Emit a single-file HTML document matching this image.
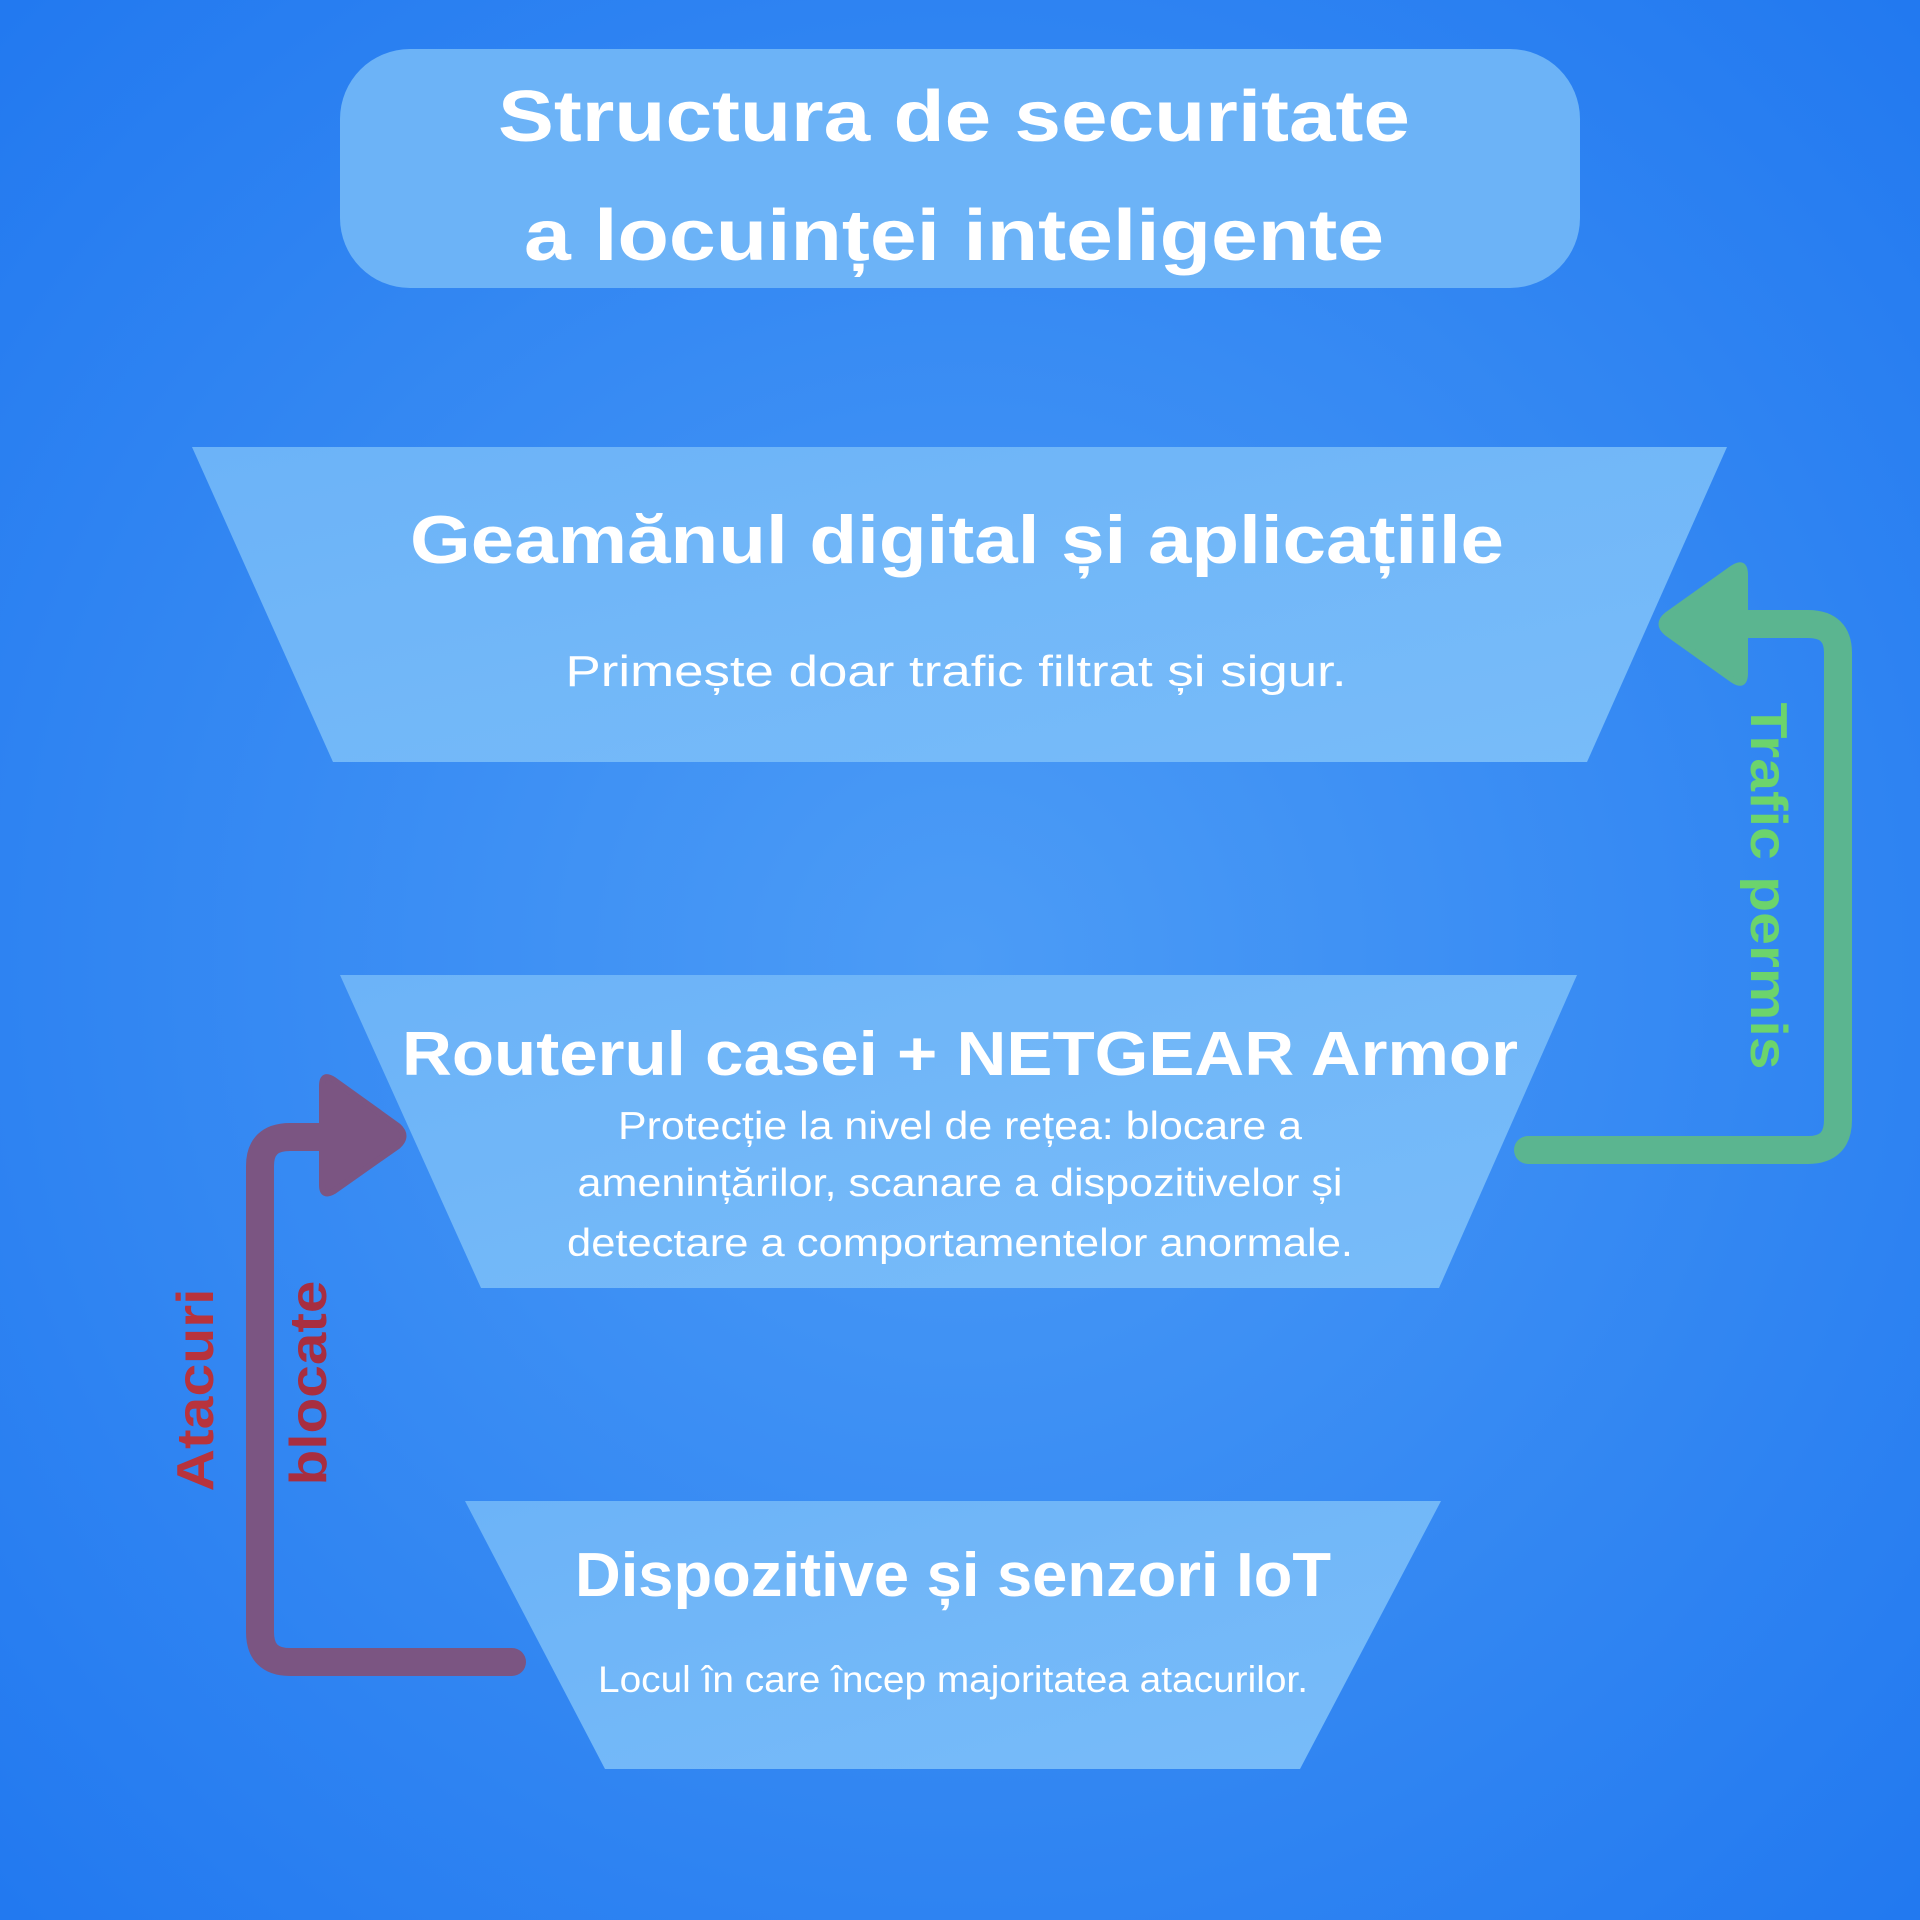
<!DOCTYPE html>
<html><head><meta charset="utf-8"><style>
html,body{margin:0;padding:0;width:1920px;height:1920px;overflow:hidden}
svg{display:block}
</style></head><body>
<svg width="1920" height="1920" viewBox="0 0 1920 1920" xmlns="http://www.w3.org/2000/svg" font-family="'Liberation Sans', 'DejaVu Sans', sans-serif">
<defs>
<radialGradient id="bg" cx="50%" cy="50%" r="70%">
<stop offset="0" stop-color="#4c9cf6"/>
<stop offset="1" stop-color="#2279f0"/>
</radialGradient>
<linearGradient id="tz" x1="0" y1="0" x2="1" y2="1">
<stop offset="0" stop-color="#6cb3f8"/>
<stop offset="1" stop-color="#78bcf9"/>
</linearGradient>
</defs>
<rect width="1920" height="1920" fill="url(#bg)"/>

<rect x="340" y="49" width="1240" height="239" rx="70" fill="#6cb3f7"/>
<g fill="#ffffff" font-weight="bold" text-anchor="middle" font-size="72">
<text x="954" y="141" textLength="912" lengthAdjust="spacingAndGlyphs">Structura de securitate</text>
<text x="954" y="260" textLength="860" lengthAdjust="spacingAndGlyphs">a locuinței inteligente</text>
</g>

<polygon points="192,447 1727,447 1587,762 333,762" fill="url(#tz)"/>
<polygon points="340,975 1577,975 1439,1288 481,1288" fill="url(#tz)"/>
<polygon points="465,1501 1441,1501 1300,1769 605,1769" fill="url(#tz)"/>

<g fill="#ffffff" text-anchor="middle">
<text x="957" y="563" font-size="68" font-weight="bold" textLength="1094" lengthAdjust="spacingAndGlyphs">Geamănul digital și aplicațiile</text>
<text x="956" y="686" font-size="44" textLength="781" lengthAdjust="spacingAndGlyphs">Primește doar trafic filtrat și sigur.</text>
<text x="960" y="1075" font-size="62" font-weight="bold" textLength="1116" lengthAdjust="spacingAndGlyphs">Routerul casei + NETGEAR Armor</text>
<text x="960" y="1139" font-size="39" textLength="684" lengthAdjust="spacingAndGlyphs">Protecție la nivel de rețea: blocare a</text>
<text x="960" y="1196" font-size="39" textLength="765" lengthAdjust="spacingAndGlyphs">amenințărilor, scanare a dispozitivelor și</text>
<text x="960" y="1256" font-size="39" textLength="786" lengthAdjust="spacingAndGlyphs">detectare a comportamentelor anormale.</text>
<text x="953" y="1596" font-size="62" font-weight="bold" textLength="756" lengthAdjust="spacingAndGlyphs">Dispozitive și senzori IoT</text>
<text x="953" y="1692" font-size="37" textLength="710" lengthAdjust="spacingAndGlyphs">Locul în care încep majoritatea atacurilor.</text>
</g>

<!-- green arrow -->
<path d="M1528,1150 L1808,1150 Q1838,1150 1838,1120 L1838,653 Q1838,624 1808,624 L1740,624" fill="none" stroke="#5bb590" stroke-width="28" stroke-linecap="round" stroke-linejoin="round"/>
<path d="M1745,575 Q1745,560 1733,568 L1667,615 Q1656,624 1667,633 L1733,680 Q1745,688 1745,673 Z" fill="#5bb590" stroke="#5bb590" stroke-width="6" stroke-linejoin="round"/>
<text transform="translate(1751,886) rotate(90)" text-anchor="middle" font-size="52" font-weight="bold" fill="#6cd46c" textLength="367" lengthAdjust="spacingAndGlyphs">Trafic permis</text>

<!-- purple arrow -->
<path d="M512,1662 L290,1662 Q260,1662 260,1632 L260,1166 Q260,1137 290,1137 L330,1137" fill="none" stroke="#7b5582" stroke-width="28" stroke-linecap="round" stroke-linejoin="round"/>
<path d="M322,1086 Q322,1072 334,1080 L398,1126 Q409,1136 398,1146 L334,1191 Q322,1198 322,1185 Z" fill="#7b5582" stroke="#7b5582" stroke-width="6" stroke-linejoin="round"/>
<text transform="translate(213,1390) rotate(-90)" text-anchor="middle" font-size="52" font-weight="bold" fill="#b8333c" textLength="203" lengthAdjust="spacingAndGlyphs">Atacuri</text>
<text transform="translate(326,1383) rotate(-90)" text-anchor="middle" font-size="52" font-weight="bold" fill="#a82e40" textLength="205" lengthAdjust="spacingAndGlyphs">blocate</text>
</svg>
</body></html>
